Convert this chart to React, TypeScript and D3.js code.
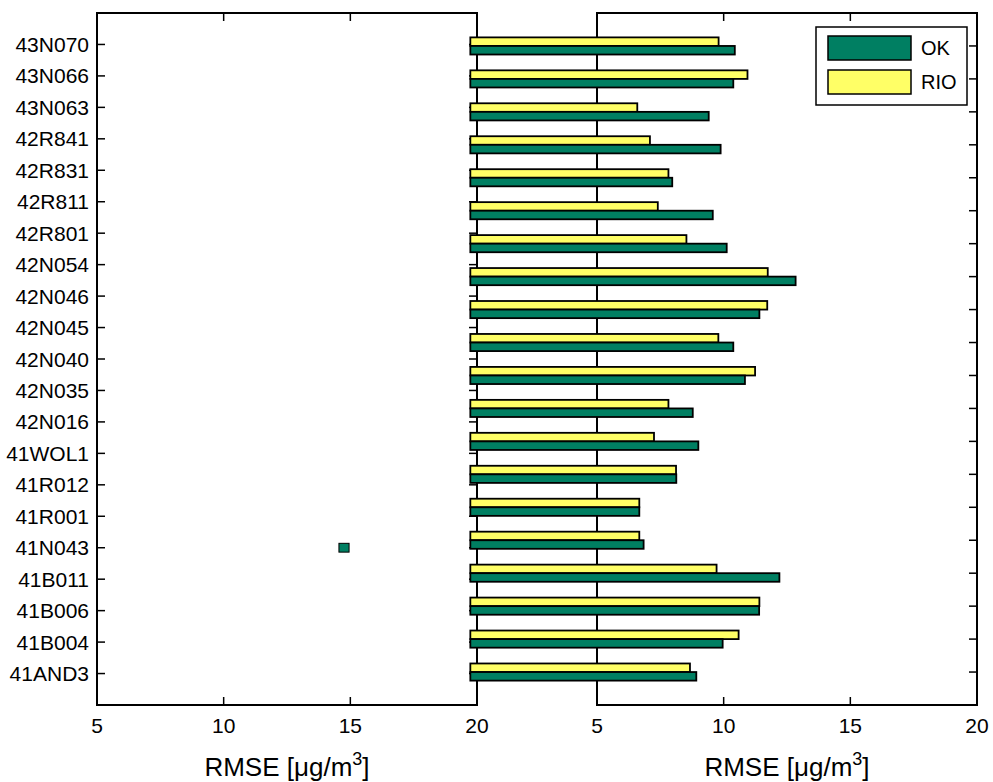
import * as d3 from 'd3';

// station labels on the left axes, top to bottom
const stations = [
  '43N070', '43N066', '43N063', '42R841', '42R831', '42R811', '42R801',
  '42N054', '42N046', '42N045', '42N040', '42N035', '42N016', '41WOL1',
  '41R012', '41R001', '41N043', '41B011', '41B006', '41B004', '41AND3',
];

// bar groups on the right axes, top to bottom
const okValues = [
  10.44, 10.38, 9.41, 9.88, 7.97, 9.57, 10.12, 12.84, 11.41, 10.38,
  10.84, 8.78, 9.0, 8.13, 6.67, 6.84, 12.2, 11.4, 9.96, 8.92,
];
const rioValues = [
  9.8, 10.94, 6.59, 7.09, 7.82, 7.4, 8.53, 11.74, 11.72, 9.79,
  11.24, 7.82, 7.25, 8.12, 6.67, 6.67, 9.72, 11.41, 10.59, 8.67,
];

// the lone stray patch left on the left axes
const strayBars = [{ station: '41N043', from: 14.55, to: 14.95 }];

const xTicks = [5, 10, 15, 20];
const seriesNames = ['OK', 'RIO'];
const seriesColors = ['#007f62', '#ffff66'];

const W = 993;
const H = 782;
const top = 13;
const bottom = 705;
const font = '"Liberation Sans", Arial, Helvetica, sans-serif';

export default function App() {
  const xL = d3.scaleLinear().domain([5, 20]).range([97, 477]);
  const xR = d3.scaleLinear().domain([5, 20]).range([597, 977]);
  const yL = d3.scaleLinear().domain([0, stations.length + 1]).range([bottom, top]);
  const yR = d3.scaleLinear().domain([0, okValues.length + 1]).range([bottom, top]);

  const stationPos = (i: number) => stations.length - i;
  const groupPos = (i: number) => okValues.length - i;
  const barH = 0.26;
  const tickLen = 8;

  const axesBox = (x: d3.ScaleLinear<number, number>, y: d3.ScaleLinear<number, number>, yTicks: number[]) => {
    const [x0, x1] = x.range();
    return (
      <g>
        <rect x={x0} y={top} width={x1 - x0} height={bottom - top} fill="white" stroke="none" />
        {xTicks.map((t) => (
          <g key={'x' + t}>
            <line x1={x(t)} x2={x(t)} y1={bottom} y2={bottom - tickLen} stroke="black" strokeWidth={1.5} />
            <line x1={x(t)} x2={x(t)} y1={top} y2={top + tickLen} stroke="black" strokeWidth={1.5} />
          </g>
        ))}
        {yTicks.map((t) => (
          <g key={'y' + t}>
            <line x1={x0} x2={x0 + tickLen} y1={y(t)} y2={y(t)} stroke="black" strokeWidth={1.5} />
            <line x1={x1} x2={x1 - tickLen} y1={y(t)} y2={y(t)} stroke="black" strokeWidth={1.5} />
          </g>
        ))}
        <rect x={x0} y={top} width={x1 - x0} height={bottom - top} fill="none" stroke="black" strokeWidth={2} />
        {xTicks.map((t) => (
          <text key={'l' + t} x={x(t)} y={733} textAnchor="middle" fontSize={21} fontFamily={font}>
            {t}
          </text>
        ))}
        <text x={(x0 + x1) / 2} y={776} textAnchor="middle" fontSize={26} fontFamily={font}>
          RMSE [μg/m
          <tspan dy={-11} fontSize={18}>3</tspan>
          <tspan dy={11}>]</tspan>
        </text>
      </g>
    );
  };

  return (
    <div style={{ position: 'absolute', top: 0, left: 0 }}>
      <svg width={W} height={H} style={{ display: 'block', background: 'white' }}>
        {axesBox(xL, yL, stations.map((_, i) => stationPos(i)))}
        {stations.map((s, i) => (
          <text
            key={s}
            x={89}
            y={yL(stationPos(i))}
            dy="0.36em"
            textAnchor="end"
            fontSize={21}
            fontFamily={font}
          >
            {s}
          </text>
        ))}
        {strayBars.map((b) => {
          const p = stationPos(stations.indexOf(b.station));
          return (
            <rect
              key={b.station}
              x={xL(b.from)}
              y={yL(p + 0.14)}
              width={xL(b.to) - xL(b.from)}
              height={yL(p - 0.14) - yL(p + 0.14)}
              fill={seriesColors[0]}
              stroke="black"
              strokeWidth={1}
            />
          );
        })}

        {axesBox(xR, yR, okValues.map((_, i) => groupPos(i)))}

        {/* bars, drawn from zero and not clipped */}
        {okValues.map((v, i) => {
          const p = groupPos(i);
          return (
            <g key={i} stroke="black" strokeWidth={1.8}>
              <rect
                x={xR(0)}
                y={yR(p + barH)}
                width={xR(rioValues[i]) - xR(0)}
                height={yR(p) - yR(p + barH)}
                fill={seriesColors[1]}
              />
              <rect
                x={xR(0)}
                y={yR(p)}
                width={xR(v) - xR(0)}
                height={yR(p - barH) - yR(p)}
                fill={seriesColors[0]}
              />
            </g>
          );
        })}

        {/* legend */}
        <g>
          <rect x={816} y={27} width={151} height={78} fill="white" stroke="black" strokeWidth={1.5} />
          {seriesNames.map((n, i) => (
            <g key={n}>
              <rect x={828} y={36 + i * 34} width={83} height={24} fill={seriesColors[i]} stroke="black" strokeWidth={1.5} />
              <text x={921} y={48 + i * 34} dy="0.36em" fontSize={20} fontFamily={font}>
                {n}
              </text>
            </g>
          ))}
        </g>
      </svg>
    </div>
  );
}
